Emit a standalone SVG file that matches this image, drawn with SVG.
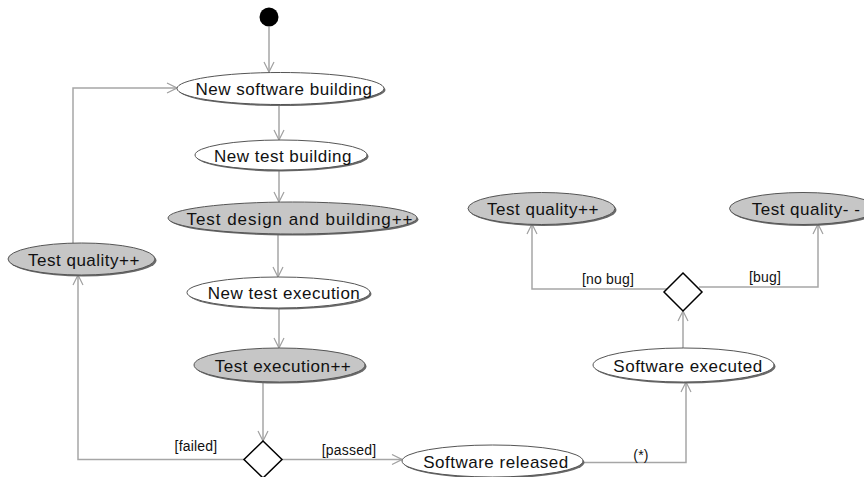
<svg xmlns="http://www.w3.org/2000/svg" width="864" height="477" viewBox="0 0 864 477">
<defs>
<marker id="arr" viewBox="0 0 12 12" refX="11" refY="6" markerWidth="12" markerHeight="12" markerUnits="userSpaceOnUse" orient="auto">
<path d="M1,1 L11,6 L1,11" fill="none" stroke="#a0a0a0" stroke-width="1.2"/>
</marker>
</defs>
<style>
.bg{fill:#ffffff}
.sh{fill:#6a6a6a}
.w{fill:#ffffff;stroke:#555555;stroke-width:1}
.g{fill:#c6c6c6;stroke:#555555;stroke-width:1}
.t{font-family:"Liberation Sans",Arial,sans-serif;font-size:17px;letter-spacing:0.5px;fill:#111111;text-anchor:middle}
.l{font-family:"Liberation Sans",Arial,sans-serif;font-size:14px;letter-spacing:0.2px;fill:#111111;text-anchor:middle}
.c{fill:none;stroke:#a6a6a6;stroke-width:1.5}
.d{fill:#ffffff;stroke:#000000;stroke-width:1.5}
</style>
<rect class="bg" x="0" y="0" width="864" height="477"/>

<g id="connectors">
<path class="c" d="M269,27 L269,72" marker-end="url(#arr)"/>
<path class="c" d="M279,105 L279,140" marker-end="url(#arr)"/>
<path class="c" d="M279,171 L279,202" marker-end="url(#arr)"/>
<path class="c" d="M278,235 L278,277" marker-end="url(#arr)"/>
<path class="c" d="M279,309 L279,348" marker-end="url(#arr)"/>
<path class="c" d="M263,383 L263,441" marker-end="url(#arr)"/>
<path class="c" d="M245,459.5 L78,459.5 L78,275" marker-end="url(#arr)"/>
<path class="c" d="M73,243 L73,88 L177,88" marker-end="url(#arr)"/>
<path class="c" d="M282,459.5 L402,459.5" marker-end="url(#arr)"/>
<path class="c" d="M583,462.5 L686,462.5 L686,382" marker-end="url(#arr)"/>
<path class="c" d="M683,348 L683,311" marker-end="url(#arr)"/>
<path class="c" d="M667,289 L532,289 L532,224" marker-end="url(#arr)"/>
<path class="c" d="M699,287 L818,287 L818,224" marker-end="url(#arr)"/>
<text class="l" x="196" y="451">[failed]</text>
<text class="l" x="349" y="455">[passed]</text>
<text class="l" x="641" y="460">(*)</text>
<text class="l" x="608" y="284">[no bug]</text>
<text class="l" x="765" y="282">[bug]</text>
</g>

<g id="start">
<circle cx="269" cy="17" r="9.5" fill="#000000"/>
</g>

<g id="new-software-building">
<ellipse class="sh" cx="282" cy="90" rx="103.5" ry="16"/>
<ellipse class="w" cx="280.5" cy="88.5" rx="103.5" ry="16"/>
<text class="t" x="284" y="95">New software building</text>
</g>

<g id="new-test-building">
<ellipse class="sh" cx="282.5" cy="156.5" rx="86" ry="15"/>
<ellipse class="w" cx="281" cy="155" rx="86" ry="15"/>
<text class="t" x="283" y="161.5">New test building</text>
</g>

<g id="test-design-building">
<ellipse class="sh" cx="294" cy="219.5" rx="124.5" ry="16"/>
<ellipse class="g" cx="292.5" cy="218" rx="124.5" ry="16"/>
<text class="t" x="300" y="224.5" style="letter-spacing:0.95px">Test design and building++</text>
</g>

<g id="new-test-execution">
<ellipse class="sh" cx="280" cy="294" rx="91.5" ry="15.5"/>
<ellipse class="w" cx="278.5" cy="292.5" rx="91.5" ry="15.5"/>
<text class="t" x="284" y="299">New test execution</text>
</g>

<g id="test-execution">
<ellipse class="sh" cx="281" cy="366.5" rx="85.5" ry="17"/>
<ellipse class="g" cx="279.5" cy="365" rx="85.5" ry="17"/>
<text class="t" x="283" y="371.5">Test execution++</text>
</g>

<g id="decision-test">
<path class="d" d="M263,441 L282,459.5 L263,478 L244,459.5 Z"/>
</g>

<g id="test-quality-left">
<ellipse class="sh" cx="83" cy="260.5" rx="73.5" ry="16"/>
<ellipse class="g" cx="81.5" cy="259" rx="73.5" ry="16"/>
<text class="t" x="84" y="265.5">Test quality++</text>
</g>

<g id="software-released">
<ellipse class="sh" cx="494" cy="462.5" rx="90.5" ry="16"/>
<ellipse class="w" cx="492.5" cy="461" rx="90.5" ry="16"/>
<text class="t" x="496" y="467.5">Software released</text>
</g>

<g id="software-executed">
<ellipse class="sh" cx="685" cy="366.5" rx="90.5" ry="17"/>
<ellipse class="w" cx="683.5" cy="365" rx="90.5" ry="17"/>
<text class="t" x="688" y="371.5">Software executed</text>
</g>

<g id="decision-bug">
<path class="d" d="M683,273 L702,292 L683,311 L664,292 Z"/>
</g>

<g id="test-quality-plus">
<ellipse class="sh" cx="543" cy="210" rx="73.5" ry="16"/>
<ellipse class="g" cx="541.5" cy="208.5" rx="73.5" ry="16"/>
<text class="t" x="543" y="215">Test quality++</text>
</g>

<g id="test-quality-minus">
<ellipse class="sh" cx="804.5" cy="210" rx="73.5" ry="16"/>
<ellipse class="g" cx="803" cy="208.5" rx="73.5" ry="16"/>
<text class="t" x="806" y="215">Test quality- -</text>
</g>
</svg>
